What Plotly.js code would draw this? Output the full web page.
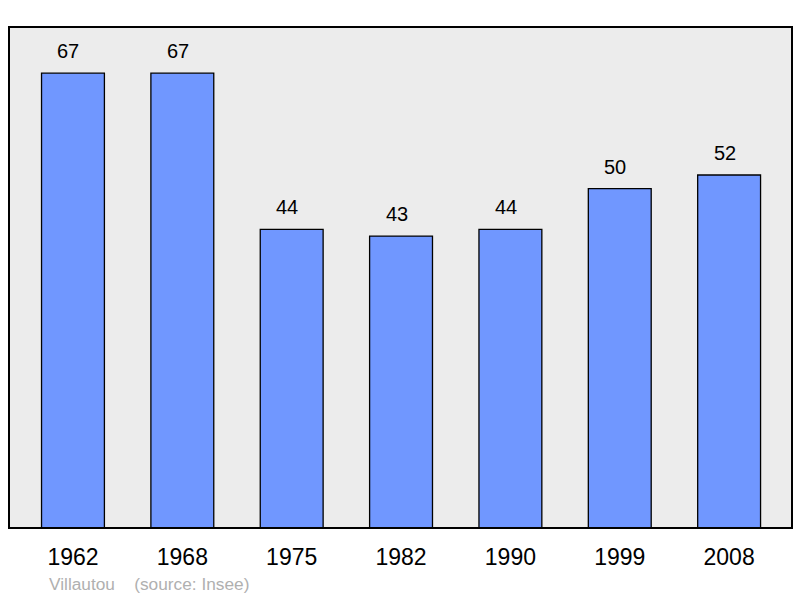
<!DOCTYPE html>
<html><head><meta charset="utf-8">
<script src="https://cdn.plot.ly/plotly-3.0.1.min.js"></script>
<style>body{margin:0;padding:0;background:#fff}#chart{width:800px;height:598px}</style>
</head><body><div id="chart"></div>
<script>
const years = ["1962","1968","1975","1982","1990","1999","2008"];
const population = [67,67,44,43,44,50,52];
const sourceText = "Villautou    (source: Insee)";

const trace = {
  type: "bar", x: years, y: population,
  marker: {color: "#7097ff", line: {color: "#000", width: 1.3}},
  width: 0.575, hoverinfo: "none"
};
const annotations = years.map((yr, i) => ({
  x: i, y: population[i], xref: "x", yref: "y",
  text: String(population[i]), showarrow: false,
  yanchor: "bottom", yshift: 9, xshift: -4.5,
  font: {family: "Liberation Sans, Arial, sans-serif", size: 20, color: "#000"}
}));
annotations.push({
  xref: "paper", yref: "paper", x: 0.048, y: -0.112, xanchor: "left", yanchor: "middle",
  text: sourceText, showarrow: false,
  font: {family: "Liberation Sans, Arial, sans-serif", size: 17.3, color: "#b0b0b0"}
});
const layout = {
  width: 800, height: 598,
  margin: {l: 9, r: 8, t: 27, b: 70},
  paper_bgcolor: "#fff", plot_bgcolor: "#ececec",
  showlegend: false,
  xaxis: {type: "category", range: [-0.585, 6.575], showgrid: false, zeroline: false,
    showline: false, ticks: "outside", ticklen: 8, tickcolor: "rgba(0,0,0,0)",
    tickfont: {family: "Liberation Sans, Arial, sans-serif", size: 23, color: "#000"}},
  yaxis: {range: [0, 73.8], showgrid: false, zeroline: false, showticklabels: false, showline: false},
  annotations: annotations,
  shapes: [{type: "rect", xref: "paper", yref: "paper", x0: 0, x1: 1, y0: 0, y1: 1,
    line: {color: "#000", width: 2}, fillcolor: "rgba(0,0,0,0)", layer: "above"}]
};
Plotly.newPlot("chart", [trace], layout, {staticPlot: true});
</script></body></html>
